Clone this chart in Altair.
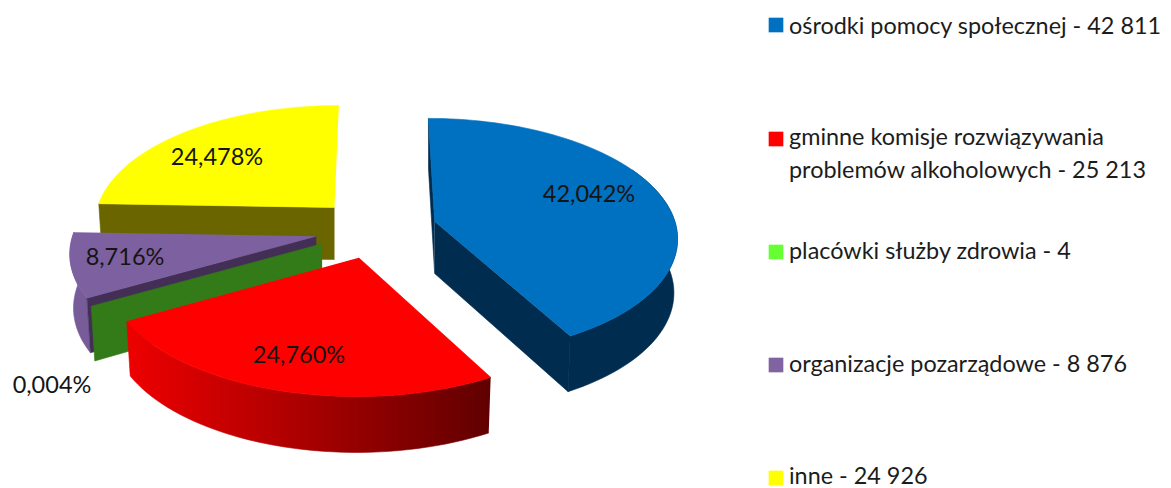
import math
import altair as alt
import pandas as pd

categories = ["ośrodki pomocy społecznej", "gminne komisje rozwiązywania problemów alkoholowych",
              "placówki służby zdrowia", "organizacje pozarządowe", "inne"]
values = [42811, 25213, 4, 8876, 24926]
pct_labels = ["42,042%", "24,760%", "0,004%", "8,716%", "24,478%"]
legend_labels = ["ośrodki pomocy społecznej - 42 811",
                 "gminne komisje rozwiązywania\nproblemów alkoholowych - 25 213",
                 "placówki służby zdrowia - 4",
                 "organizacje pozarządowe - 8 876",
                 "inne - 24 926"]
top_colors = ["#0070c0", "#ff0000", "#337a18", "#7d60a0", "#ffff00"]
legend_colors = ["#0070c0", "#ff0000", "#66ff33", "#8064a2", "#ffff00"]
side_colors = ["#002c4f", None, "#337a18", "#432f55", "#6b6500"]
rim_colors = ["#002c4f", None, None, "#775c99", None]

# layout (page pixels minus the 8px margin)
W, H = 1155, 480
CX, CY = 376 - 8, 229 - 8
A, B, EXPL_X, EXPL_Y, EXPL_R = 242, 117, 61, 30, 0.25
PX, PY = 0.12, 0.126
lab_xy = [(581, 187), (291, 348), (44, 378), (117, 250), (209, 150)]
leg_y = [17, 131, 244, 357, 470]
text_y = [27, 138, 252, 365, 477]
FONT = "Lato"
FS_LEG, FS_LAB = 23.4, 23.5


def project(th, wedge, bottom=False):
    mid, apex = wedge
    X, Y = math.sin(th), math.cos(th)
    Yg = Y + EXPL_R * math.cos(mid)
    x = CX + (EXPL_X * math.sin(mid) + A * X) / (1 + PX * Yg)
    y = apex[1] - B * Y / (1 + PY * Yg)
    if bottom:
        return (apex[0] + 0.985 * (x - apex[0]), y + 53.5 * (1 - 0.045 * Y))
    return (x, y)


def arc(a0, a1):
    n = max(2, int(abs(a1 - a0) / math.radians(2)) + 1)
    return [a0 + (a1 - a0) * k / n for k in range(n + 1)]


total = sum(values)
rows = []
pid = 0
layers_spec = []


def add(points, fill_key):
    global pid
    for i, (x, y) in enumerate(points):
        rows.append({"pid": pid, "i": i, "x": x, "y": y})
    layers_spec.append((pid, fill_key))
    pid += 1


cum = 0
wedges = []
for v in values:
    a0 = cum / total * 2 * math.pi
    cum += v
    a1 = cum / total * 2 * math.pi
    mid = (a0 + a1) / 2
    Ye = EXPL_R * math.cos(mid)
    apex = (CX + EXPL_X * math.sin(mid) / (1 + PX * Ye), CY - EXPL_Y * math.cos(mid))
    wedges.append((a0, a1, mid, apex))

red_grad = alt.LinearGradient(gradient="linear", stops=[
    alt.GradientStop(color="#ee0000", offset=0),
    alt.GradientStop(color="#a80000", offset=0.5),
    alt.GradientStop(color="#600000", offset=1)], x1=0, x2=1, y1=0, y2=0)

for idx in [4, 3, 2, 1, 0]:  # painter's order, back to front
    a0, a1, mid, apex = wedges[idx]
    w = (mid, apex)
    bottom_apex = (apex[0], apex[1] + 52)
    ths = arc(a0, a1)
    rim_ths = [t for t in ths if t > math.radians(60)] if idx == 0 else ths
    rim = [project(t, w) for t in rim_ths] + [project(t, w, True) for t in reversed(rim_ths)]
    if idx == 1:
        add(rim, red_grad)
    elif rim_colors[idx]:
        add(rim, rim_colors[idx])
    if side_colors[idx]:
        add([apex, project(a0, w), project(a0, w, True), bottom_apex], side_colors[idx])
    if idx == 0:
        add([apex, project(a1, w), project(a1, w, True), bottom_apex], side_colors[idx])
    if idx != 2:
        add([apex] + [project(t, w) for t in ths], top_colors[idx])

df = pd.DataFrame(rows)
xs = alt.Scale(domain=[0, W], range=[0, W], nice=False, zero=False)
ys = alt.Scale(domain=[0, H], range=[0, H], nice=False, zero=False)
xe = alt.X("x:Q", scale=xs, axis=None)
ye = alt.Y("y:Q", scale=ys, axis=None)

base = alt.Chart(df)
layers = []
for p_id, fill in layers_spec:
    layers.append(base.transform_filter(alt.datum.pid == p_id)
                  .mark_line(fill=fill, stroke=fill, strokeWidth=0.6, interpolate="linear", clip=False)
                  .encode(x=xe, y=ye, order=alt.Order("i:Q")))

lab_df = pd.DataFrame({"x": [p[0] for p in lab_xy], "y": [p[1] for p in lab_xy], "t": pct_labels})
layers.append(alt.Chart(lab_df).mark_text(font=FONT, fontSize=FS_LAB, color="#151515", baseline="middle", align="center")
              .encode(x=xe, y=ye, text="t:N"))

sq_df = pd.DataFrame({"x": [768] * 5, "y": leg_y, "c": legend_colors, "k": categories})
layers.append(alt.Chart(sq_df).mark_point(shape="square", filled=True, size=215, opacity=1)
              .encode(x=xe, y=ye, color=alt.Color("c:N", scale=None, legend=None)))

leg_df = pd.DataFrame({"x": [781] * 5, "y": [y - 1 for y in text_y], "t": legend_labels})
layers.append(alt.Chart(leg_df).mark_text(font=FONT, fontSize=FS_LEG, color="#1c1c1c", baseline="alphabetic",
                                          align="left", lineBreak="\n", lineHeight=33)
              .encode(x=xe, y=ye, text="t:N"))

chart = alt.layer(*layers).properties(
    width=W, height=H, padding=0, autosize=alt.AutoSizeParams(type="none"),
    background="white").configure_view(strokeWidth=0)
chart.save("out.html", embed_options={"renderer": "svg", "actions": False})
